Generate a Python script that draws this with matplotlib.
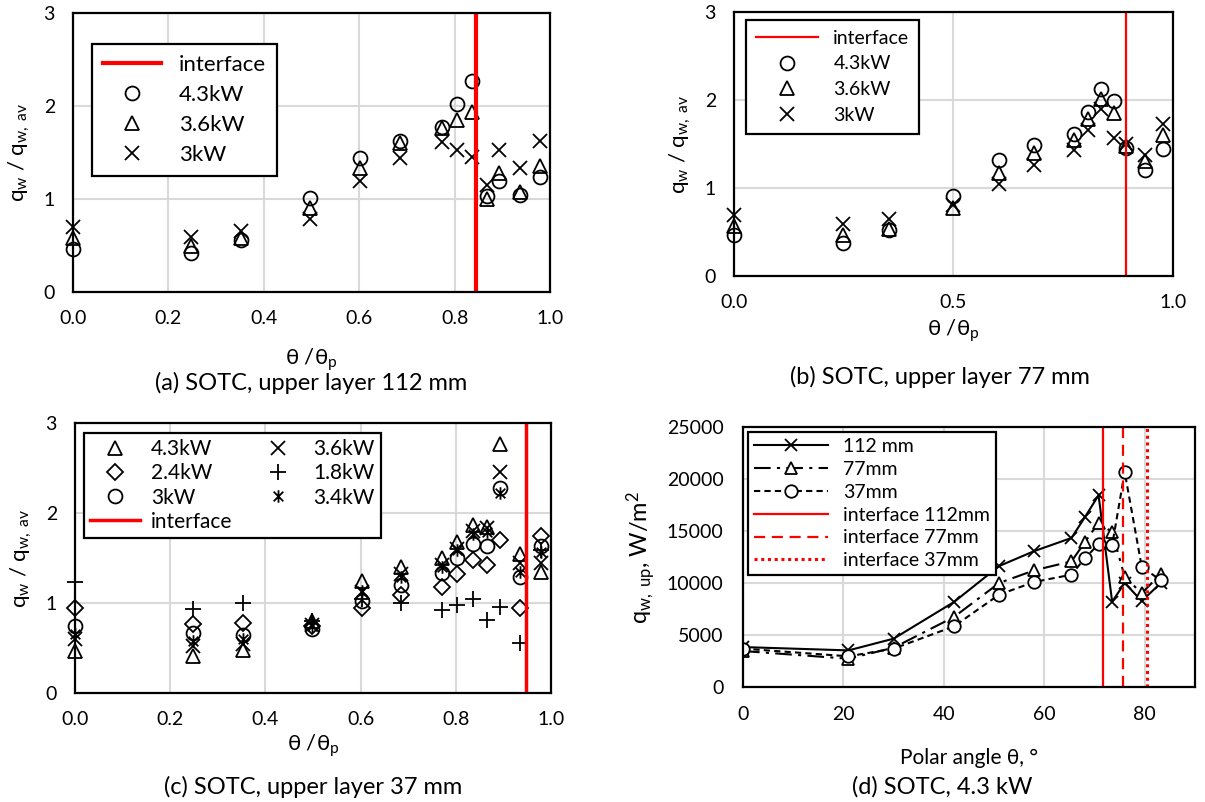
import matplotlib
matplotlib.use("Agg")
import matplotlib.pyplot as plt
from matplotlib.path import Path

plt.rcParams["font.family"] = ["Lato", "DejaVu Sans"]
plt.rcParams["mathtext.fontset"] = "custom"
plt.rcParams["mathtext.rm"] = "Lato"
plt.rcParams["mathtext.it"] = "Lato:italic"

# (a) upper layer 112 mm
x_a = [0, 0.248, 0.353, 0.496, 0.601, 0.685, 0.773, 0.805, 0.837, 0.867, 0.894, 0.937, 0.98]
a_43 = [0.46, 0.42, 0.56, 1.01, 1.44, 1.62, 1.77, 2.02, 2.27, 1.03, 1.19, 1.04, 1.24]
a_36 = [0.58, 0.49, 0.58, 0.90, 1.33, 1.60, 1.76, 1.85, 1.94, 1.00, 1.28, 1.08, 1.36]
a_30 = [0.70, 0.59, 0.66, 0.78, 1.19, 1.44, 1.61, 1.53, 1.45, 1.15, 1.53, 1.33, 1.62]
iface_a = 0.845

# (b) upper layer 77 mm
x_b = [0, 0.249, 0.354, 0.499, 0.603, 0.683, 0.774, 0.806, 0.836, 0.866, 0.893, 0.937, 0.978]
b_43 = [0.47, 0.38, 0.52, 0.91, 1.32, 1.49, 1.61, 1.86, 2.12, 1.99, 1.45, 1.20, 1.44]
b_36 = [0.57, 0.47, 0.53, 0.77, 1.17, 1.40, 1.54, 1.78, 2.01, 1.85, 1.48, 1.31, 1.60]
b_30 = [0.69, 0.59, 0.65, 0.81, 1.05, 1.26, 1.43, 1.66, 1.90, 1.57, 1.50, 1.38, 1.73]
iface_b = 0.893

# (c) upper layer 37 mm
x_c = [0, 0.248, 0.353, 0.497, 0.602, 0.685, 0.772, 0.803, 0.837, 0.865, 0.893, 0.935, 0.978]
c_43 = [0.47, 0.41, 0.48, 0.80, 1.24, 1.40, 1.50, 1.68, 1.87, 1.85, 2.77, 1.55, 1.35]
c_36 = [0.60, 0.52, 0.55, 0.76, 1.12, 1.32, 1.42, 1.60, 1.80, 1.83, 2.46, 1.44, 1.44]
c_24 = [0.94, 0.77, 0.78, 0.74, 0.95, 1.09, 1.18, 1.32, 1.48, 1.42, 1.70, 0.94, 1.74]
c_18 = [1.23, 0.93, 1.00, 0.80, 1.05, 1.00, 0.92, 0.98, 1.04, 0.81, 0.96, 0.56, 1.59]
c_30 = [0.74, 0.67, 0.65, 0.71, 1.02, 1.20, 1.33, 1.50, 1.66, 1.63, 2.28, 1.29, 1.63]
c_34 = [0.66, 0.58, 0.60, 0.75, 1.13, 1.29, 1.40, 1.59, 1.77, 1.79, 2.22, 1.35, 1.57]
iface_c = 0.948

# (d) 4.3 kW, heat flux vs polar angle
angle = [0, 21, 30, 42, 51, 58, 65.4, 68.1, 70.8, 73.5, 76.0, 79.4, 83.2]
q_112 = [3840, 3520, 4650, 8170, 11630, 13070, 14330, 16350, 18430, 8200, 10000, 8270, 10000]
q_77 = [3460, 2720, 3780, 6730, 10000, 11220, 12080, 13940, 15800, 14900, 10600, 9000, 10900]
q_37 = [3690, 2950, 3690, 5830, 8880, 10100, 10800, 12400, 13720, 13620, 20670, 11540, 10260]
iface_d = [71.7, 75.7, 80.4]

# Excel-style star marker: an X with a vertical stroke
STAR = Path([(-1, -1), (1, 1), (-1, 1), (1, -1), (0, -1.3), (0, 1.3)],
            [Path.MOVETO, Path.LINETO, Path.MOVETO, Path.LINETO, Path.MOVETO, Path.LINETO])

GRID = "#d9d9d9"
YLAB = r"q$_{\rm w}$ / q$_{\rm w,\ av}$"
XLAB = r"θ /θ$_{\rm p}$"
TICK_FS = 14
TITLE_FS = 17


def px(x0, y0, x1, y1):
    W, H = 1205, 802
    return [x0 / W, 1 - y1 / H, (x1 - x0) / W, (y1 - y0) / H]


def style_axes(ax, pad=13):
    ax.grid(True, color=GRID, linewidth=1.5)
    ax.set_axisbelow(True)
    for s in ax.spines.values():
        s.set_linewidth(1.6)
        s.set_color("black")
    ax.tick_params(length=0, labelsize=TICK_FS, pad=pad)


def scatter(ax, x, y, marker, ms=10, label=None):
    ax.plot(x, y, linestyle="none", marker=marker, ms=ms, mfc="none",
            mec="black", mew=1.3, label=label, clip_on=False)


def legend(ax, handles, labels, anchor, fs, ncol=1, **kw):
    lg = ax.legend(handles, labels, loc="upper left", bbox_to_anchor=anchor,
                   fontsize=fs, ncol=ncol, fancybox=False, framealpha=1,
                   edgecolor="black", borderaxespad=0, **kw)
    lg.get_frame().set_linewidth(1.6)
    return lg


fig = plt.figure(figsize=(12.05, 8.02), dpi=100)

# ---- (a)
ax = fig.add_axes(px(73, 13, 550, 292))
style_axes(ax)
scatter(ax, x_a, a_43, "o", label="4.3kW")
scatter(ax, x_a, a_36, "^", label="3.6kW")
scatter(ax, x_a, a_30, "x", label="3kW")
ax.axvline(iface_a, color="red", lw=3, label="interface")
ax.set_xlim(0, 1)
ax.set_ylim(0, 3)
ax.set_xticks([0, 0.2, 0.4, 0.6, 0.8, 1.0])
ax.set_xticklabels(["0.0", "0.2", "0.4", "0.6", "0.8", "1.0"])
ax.set_yticks([0, 1, 2, 3])
h, l = ax.get_legend_handles_labels()
legend(ax, [h[3], h[0], h[1], h[2]], [l[3], l[0], l[1], l[2]], (0.04, 0.89), 16,
       handlelength=2.6, labelspacing=0.45, borderpad=0.5)
ax.set_ylabel(YLAB, fontsize=16, labelpad=8)
ax.set_xlabel(XLAB, fontsize=16, labelpad=14)
fig.text(311 / 1205, 1 - 383 / 802, "(a) SOTC, upper layer 112 mm", fontsize=TITLE_FS,
         ha="center", va="center")

# ---- (b)
ax = fig.add_axes(px(734, 12, 1173, 276))
style_axes(ax)
scatter(ax, x_b, b_43, "o", label="4.3kW")
scatter(ax, x_b, b_36, "^", label="3.6kW")
scatter(ax, x_b, b_30, "x", label="3kW")
ax.axvline(iface_b, color="red", lw=1.6, label="interface")
ax.set_xlim(0, 1)
ax.set_ylim(0, 3)
ax.set_xticks([0, 0.5, 1.0])
ax.set_xticklabels(["0.0", "0.5", "1.0"])
ax.set_yticks([0, 1, 2, 3])
h, l = ax.get_legend_handles_labels()
legend(ax, [h[3], h[0], h[1], h[2]], [l[3], l[0], l[1], l[2]], (0.027, 0.97), 14,
       handlelength=3.2, labelspacing=0.45, borderpad=0.5)
ax.set_ylabel(YLAB, fontsize=16, labelpad=8)
ax.set_xlabel(XLAB, fontsize=16, labelpad=5)
fig.text(940 / 1205, 1 - 377 / 802, "(b) SOTC, upper layer 77 mm", fontsize=TITLE_FS,
         ha="center", va="center")

# ---- (c)
ax = fig.add_axes(px(75, 423, 551, 693))
style_axes(ax)
scatter(ax, x_c, c_43, "^", label="4.3kW")
scatter(ax, x_c, c_24, "D", ms=8, label="2.4kW")
scatter(ax, x_c, c_30, "o", label="3kW")
scatter(ax, x_c, c_36, "x", label="3.6kW")
scatter(ax, x_c, c_18, "+", ms=11, label="1.8kW")
scatter(ax, x_c, c_34, STAR, ms=9, label="3.4kW")
ax.axvline(iface_c, color="red", lw=2.5, label="interface")
ax.set_xlim(0, 1)
ax.set_ylim(0, 3)
ax.set_xticks([0, 0.2, 0.4, 0.6, 0.8, 1.0])
ax.set_xticklabels(["0.0", "0.2", "0.4", "0.6", "0.8", "1.0"])
ax.set_yticks([0, 1, 2, 3])
h, l = ax.get_legend_handles_labels()
legend(ax, h[:3] + [h[6]] + h[3:6], l[:3] + [l[6]] + l[3:6], (0.019, 0.963), 15, ncol=2,
       handlelength=2.4, labelspacing=0.2, borderpad=0.3, columnspacing=1.0,
       handletextpad=0.5)
ax.set_ylabel(YLAB, fontsize=16, labelpad=8)
ax.set_xlabel(XLAB, fontsize=16, labelpad=3)
fig.text(313 / 1205, 1 - 787 / 802, "(c) SOTC, upper layer 37 mm", fontsize=TITLE_FS,
         ha="center", va="center")

# ---- (d)
ax = fig.add_axes(px(743, 427, 1195, 687))
style_axes(ax, pad=14)
ax.plot(angle, q_112, color="black", lw=1.5, marker="x", ms=9, mew=1.3,
        label="112 mm")
ax.plot(angle, q_77, color="black", lw=1.5, dashes=(8, 3, 1.5, 3), marker="^", ms=9,
        mfc="white", mew=1.3, label="77mm")
ax.plot(angle, q_37, color="black", lw=1.5, dashes=(3, 2), marker="o", ms=9,
        mfc="white", mew=1.3, label="37mm")
ax.axvline(iface_d[0], color="red", lw=1.6, label="interface 112mm")
ax.axvline(iface_d[1], color="red", lw=1.6, dashes=(5, 3), label="interface 77mm")
ax.axvline(iface_d[2], color="red", lw=2.2, dashes=(1, 1.2), label="interface 37mm")
ax.set_xlim(0, 90)
ax.set_ylim(0, 25000)
ax.set_xticks([0, 20, 40, 60, 80])
ax.set_yticks(range(0, 25001, 5000))
legend(ax, *ax.get_legend_handles_labels(), (0.011, 0.98), 14,
       handlelength=3.8, labelspacing=0.3, borderpad=0.3)
ax.set_ylabel(r"q$_{\rm w,\ up}$, W/m$^2$", fontsize=17, labelpad=6)
ax.set_xlabel("Polar angle θ, °", fontsize=15, labelpad=18)
fig.text(942 / 1205, 1 - 787 / 802, "(d) SOTC, 4.3 kW", fontsize=TITLE_FS,
         ha="center", va="center")

fig.savefig("out.png", dpi=100)
